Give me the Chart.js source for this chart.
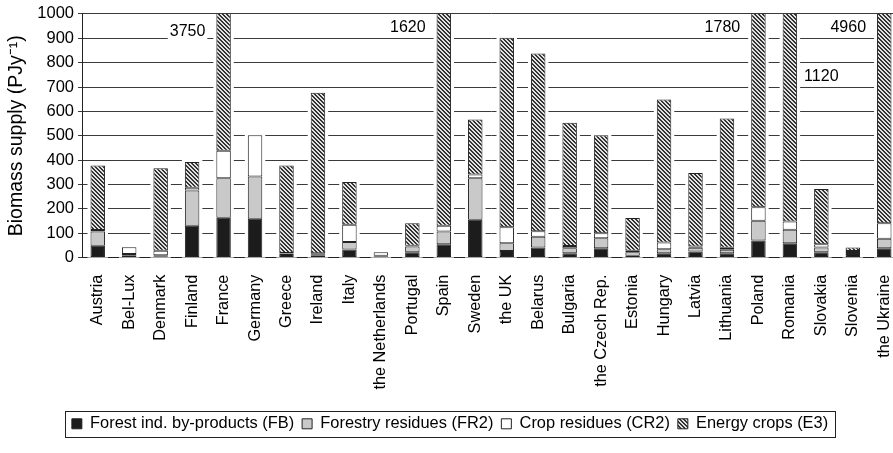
<!DOCTYPE html>
<html>
<head>
<meta charset="utf-8">
<script src="https://cdn.jsdelivr.net/npm/chart.js@4.4.0/dist/chart.umd.min.js"></script>
<style>
html, body { margin: 0; padding: 0; overflow: hidden; background: #fff; }
canvas { display: block; }
</style>
</head>
<body>
<canvas id="myChart" width="900" height="453"></canvas>
<script>
// countries on the x axis
var countries = ["Austria", "Bel-Lux", "Denmark", "Finland", "France", "Germany", "Greece",
    "Ireland", "Italy", "the Netherlands", "Portugal", "Spain", "Sweden", "the UK", "Belarus",
    "Bulgaria", "the Czech Rep.", "Estonia", "Hungary", "Latvia", "Lithuania", "Poland",
    "Romania", "Slovakia", "Slovenia", "the Ukraine"];

// PJ/y per category (stacked from the bottom)
var forestByProducts = [49, 10, 6, 131, 164, 159, 15, 10, 33, 6, 22, 55, 155, 27, 41, 18, 38, 8, 18, 25, 18, 70, 59, 22, 15, 38];
var forestryResidues = [58, 5, 4, 144, 162, 174, 2, 2, 31, 2, 24, 52, 171, 32, 45, 20, 41, 14, 16, 15, 14, 81, 55, 19, 4, 39];
var cropResidues = [6, 27, 18, 12, 112, 169, 2, 6, 71, 14, 3, 24, 15, 66, 22, 10, 21, 6, 28, 6, 8, 56, 34, 14, 8, 64];
var energyCrops = [265, 0, 339, 105, 3312, 0, 359, 658, 175, 0, 92, 1489, 226, 777, 730, 505, 402, 134, 587, 301, 531, 1573, 972, 227, 14, 4819];

// totals of the bars that run off the top of the axis
var offScaleCountries = ["France", "Spain", "Poland", "Romania", "the Ukraine"];
var offScaleTotals = ["3750", "1620", "1780", "1120", "4960"];

var yMax = 1000;
var yStep = 100;

Chart.defaults.font.family = "'Liberation Sans', Arial, sans-serif";
Chart.defaults.color = '#000';

function hatch() {
    var c = document.createElement('canvas');
    c.width = 4; c.height = 4;
    var g = c.getContext('2d');
    g.fillStyle = '#e2e2e2';
    g.fillRect(0, 0, 4, 4);
    g.fillStyle = '#333';
    for (var i = 0; i < 4; i++) {
        g.fillRect(i, i, 1, 1);
        g.fillRect((i + 1) % 4, i, 1, 1);
    }
    return g.createPattern(c, 'repeat');
}

// white gap round each bar, and the off-scale totals
var barGaps = {
    id: 'barGaps',
    beforeDatasetsDraw: function(chart) {
        var c = chart.ctx, area = chart.chartArea;
        var metas = chart.data.datasets.map(function(d, i) { return chart.getDatasetMeta(i); });
        var xs = chart.scales.x, ys = chart.scales.y;
        c.save();
        c.fillStyle = '#fff';
        var w = metas[0].data[0].width;
        countries.forEach(function(name, i) {
            var top = area.bottom;
            metas.forEach(function(m) { top = Math.min(top, m.data[i].y); });
            top = Math.max(top - 3, area.top + 1);
            var x = xs.getPixelForValue(i);
            c.fillRect(x - w / 2 - 3, top, w + 6, area.bottom - top);
        });

        c.font = "16px 'Liberation Sans', Arial, sans-serif";
        c.textBaseline = 'middle';
        offScaleCountries.forEach(function(name, k) {
            var i = countries.indexOf(name);
            var x = xs.getPixelForValue(i);
            var txt = offScaleTotals[k];
            var tw = c.measureText(txt).width;
            var y, tx;
            if (name === 'Romania') {
                c.textAlign = 'left';
                tx = x + w / 2 + 7;
                y = ys.getPixelForValue(741);
                c.fillStyle = '#fff';
                c.fillRect(tx - 2, y - 9, tw + 4, 18);
            } else {
                c.textAlign = 'right';
                tx = x - w / 2 - 11;
                y = ys.getPixelForValue(name === 'France' ? 926 : 942);
                c.fillStyle = '#fff';
                c.fillRect(tx - tw - 2, y - 9, tw + 4, 18);
            }
            c.fillStyle = '#000';
            c.fillText(txt, tx, y);
        });
        c.restore();
    }
};

// frame round the legend
var legendFrame = {
    id: 'legendFrame',
    afterDraw: function(chart) {
        var boxes = chart.legend.legendHitBoxes;
        if (!boxes || !boxes.length) return;
        var l = Infinity, r = -Infinity, t = Infinity, b = -Infinity;
        boxes.forEach(function(h) {
            l = Math.min(l, h.left); r = Math.max(r, h.left + h.width);
            t = Math.min(t, h.top); b = Math.max(b, h.top + h.height);
        });
        var c = chart.ctx;
        c.save();
        c.strokeStyle = '#222';
        c.lineWidth = 1;
        c.strokeRect(Math.round(l - 7) + 0.5, Math.round(t - 5) + 0.5, Math.round(r - l + 14), Math.round(b - t + 10));
        c.restore();
    }
};

var ctx = document.getElementById('myChart').getContext('2d');
var chart = new Chart(ctx, {
    type: 'bar',
    data: {
        labels: countries,
        datasets: [
            { label: 'Forest ind. by-products (FB)', data: forestByProducts, backgroundColor: '#1c1c1c' },
            { label: 'Forestry residues (FR2)', data: forestryResidues, backgroundColor: '#c9c9c9' },
            { label: 'Crop residues (CR2)', data: cropResidues, backgroundColor: '#ffffff' },
            { label: 'Energy crops (E3)', data: energyCrops, backgroundColor: hatch() }
        ]
    },
    options: {
        responsive: false,
        animation: false,
        devicePixelRatio: 1,
        layout: { padding: { top: 13, left: 0, right: 0, bottom: 11 } },
        datasets: {
            bar: { borderColor: '#222', borderWidth: 1, borderSkipped: false, barPercentage: 0.46, categoryPercentage: 1 }
        },
        scales: {
            x: {
                stacked: true,
                grid: { display: false },
                border: { color: '#222' },
                ticks: { autoSkip: false, maxRotation: 90, minRotation: 90, padding: 9, color: '#000', font: { size: 16.3 } },
                afterFit: function(s) { s.height = 150; s.paddingLeft = 0; s.paddingRight = 0; }
            },
            y: {
                stacked: true,
                min: 0,
                max: yMax,
                ticks: {
                    stepSize: yStep, padding: 4, color: '#000', font: { size: 16.5 },
                    callback: function(v) { return String(v); }
                },
                grid: { color: '#3a3a3a', tickLength: 4 },
                border: { color: '#222' },
                title: { display: true, text: 'Biomass supply (PJy⁻¹)', color: '#000', font: { size: 19.5 }, padding: { top: 5, bottom: 0 } },
                afterFit: function(s) { s.width = 82; }
            }
        },
        plugins: {
            legend: {
                position: 'bottom',
                labels: { boxWidth: 10, boxHeight: 10, padding: 8, color: '#000', font: { size: 16.4 } }
            },
            tooltip: { enabled: false }
        }
    },
    plugins: [barGaps, legendFrame]
});
</script>
</body>
</html>
